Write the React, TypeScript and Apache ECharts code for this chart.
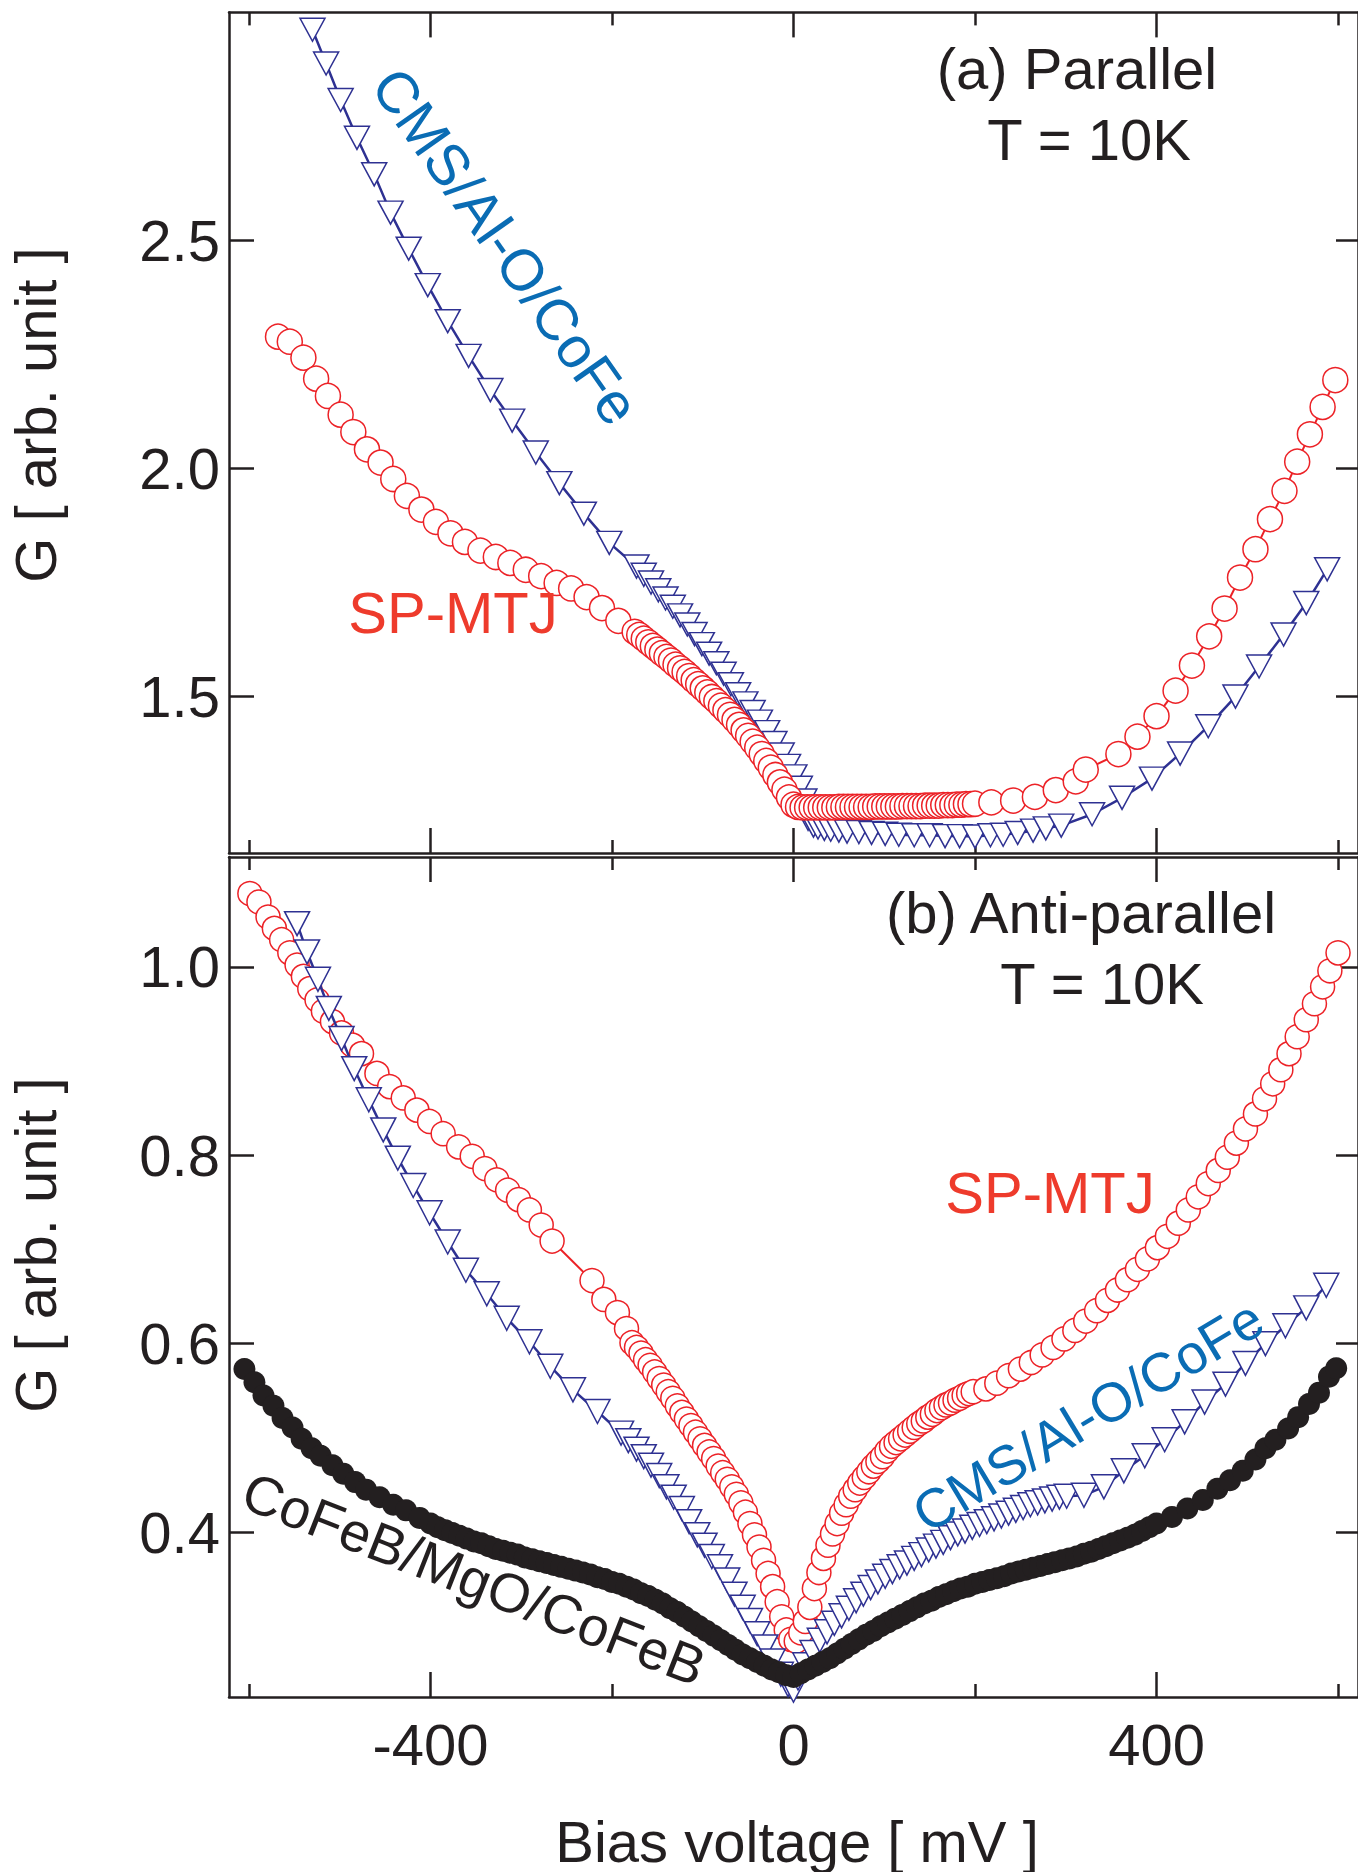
import React, { useEffect, useRef } from 'react';
import * as echarts from 'echarts';

const FONT = '"Liberation Sans", Arial, Helvetica, sans-serif';
const INK = '#231f20';
const RED = '#ec2227';
const NAVY = '#2e3192';
const LABEL_RED = '#ee3b2c';
const LABEL_BLUE = '#0a6cb4';

// Bias voltage ticks (mV)
const biasMajorTicks = [-400, 0, 400];
const biasMinorTicks = [-600, -200, 200, 600];
const biasRange = [-622, 622];

// Conductance ticks
const parallelTicks = [1.5, 2.0, 2.5];
const antiParallelTicks = [0.4, 0.6, 0.8, 1.0];
const parallelRange = [1.157, 3.0];
const antiParallelRange = [0.2248, 1.1168];

// (a) Parallel, SP-MTJ: [bias mV, G]
const parallelSp: [number, number][] = [
  [-568, 2.289], [-555, 2.278], [-540, 2.243], [-526, 2.197], [-513, 2.159], [-499, 2.118], [-485, 2.08],
  [-470, 2.042], [-455, 2.013], [-441, 1.977], [-426, 1.94], [-410, 1.91], [-394, 1.883], [-378, 1.858],
  [-362, 1.839], [-345, 1.82], [-328, 1.806], [-312, 1.793], [-295, 1.778], [-278, 1.764], [-261, 1.749],
  [-245, 1.737], [-228, 1.718], [-211, 1.694], [-193, 1.666],
  [-175, 1.642], [-170, 1.635], [-165, 1.627], [-160, 1.619], [-155, 1.611], [-150, 1.603], [-145, 1.595],
  [-140, 1.587], [-135, 1.579], [-130, 1.57], [-125, 1.562], [-120, 1.554], [-115, 1.545], [-110, 1.536],
  [-105, 1.527], [-100, 1.518], [-95, 1.509], [-90, 1.499], [-85, 1.49], [-80, 1.48], [-75, 1.47],
  [-70, 1.46], [-65, 1.449], [-60, 1.438], [-55, 1.426], [-50, 1.414], [-45, 1.401], [-40, 1.388],
  [-35, 1.374], [-30, 1.359], [-25, 1.344], [-20, 1.328], [-15, 1.312], [-10, 1.296], [-5, 1.279], [0, 1.263],
  [5, 1.258], [10, 1.257], [15, 1.257], [20, 1.257], [25, 1.257], [30, 1.257], [35, 1.257], [40, 1.257],
  [45, 1.257], [50, 1.258], [55, 1.258], [60, 1.258], [65, 1.258], [70, 1.258], [75, 1.258], [80, 1.258],
  [85, 1.258], [90, 1.259], [95, 1.259], [100, 1.259], [105, 1.259], [110, 1.259], [115, 1.259], [120, 1.26],
  [125, 1.26], [130, 1.26], [135, 1.26], [140, 1.26], [145, 1.261], [150, 1.261], [155, 1.261], [160, 1.261],
  [165, 1.262], [170, 1.262], [175, 1.262], [180, 1.263], [185, 1.263], [190, 1.264], [195, 1.264], [200, 1.265],
  [218, 1.268], [242, 1.272], [266, 1.28], [289, 1.295], [311, 1.314], [322, 1.34], [358, 1.374], [379, 1.412],
  [400, 1.457], [421, 1.513], [439, 1.568], [458, 1.632], [475, 1.693], [492, 1.761], [509, 1.823], [525, 1.889],
  [541, 1.951], [555, 2.015], [569, 2.075], [583, 2.135], [597, 2.194],
];

// (a) Parallel, CMS/Al-O/CoFe
const parallelCms: [number, number][] = [
  [-530, 2.962], [-515, 2.888], [-499, 2.808], [-481, 2.725], [-462, 2.645], [-444, 2.561], [-424, 2.482],
  [-403, 2.402], [-381, 2.323], [-358, 2.247], [-334, 2.172], [-310, 2.105], [-284, 2.035], [-258, 1.968],
  [-231, 1.901], [-203, 1.837], [-173, 1.785], [-165, 1.767], [-157, 1.75], [-149, 1.733], [-141, 1.715],
  [-133, 1.697], [-125, 1.678], [-117, 1.658], [-109, 1.637], [-101, 1.615], [-93, 1.594], [-85, 1.573],
  [-77, 1.55], [-69, 1.527], [-61, 1.505], [-53, 1.485], [-45, 1.466], [-37, 1.445], [-29, 1.422],
  [-21, 1.398], [-13, 1.373], [-6, 1.348], [1, 1.325], [7, 1.3], [12, 1.272], [16, 1.232], [22, 1.217],
  [27, 1.213], [34, 1.21], [41, 1.208], [50, 1.206], [59, 1.204], [72, 1.203], [86, 1.201], [101, 1.199],
  [116, 1.197], [133, 1.196], [150, 1.196], [167, 1.194], [183, 1.194], [200, 1.193], [217, 1.196],
  [231, 1.197], [247, 1.201], [264, 1.206], [278, 1.211], [295, 1.217], [329, 1.242], [362, 1.278],
  [395, 1.32], [426, 1.375], [457, 1.435], [487, 1.5], [513, 1.566], [540, 1.636], [565, 1.705], [588, 1.779],
];

// (b) Anti-parallel, SP-MTJ
const antiSp: [number, number][] = [
  [-599, 1.078], [-589, 1.069], [-579, 1.053], [-572, 1.041], [-564, 1.029], [-555, 1.015], [-547, 1.002],
  [-540, 0.99], [-533, 0.977], [-525, 0.965], [-518, 0.953], [-508, 0.942], [-498, 0.93], [-486, 0.917],
  [-476, 0.908], [-459, 0.887], [-445, 0.873], [-430, 0.861], [-415, 0.848], [-401, 0.836], [-386, 0.823],
  [-369, 0.809], [-354, 0.799], [-340, 0.786], [-327, 0.774], [-315, 0.763], [-303, 0.753], [-291, 0.742],
  [-278, 0.726], [-266, 0.709], [-222, 0.667], [-209, 0.647], [-194, 0.633], [-184, 0.616],
  [-178, 0.601], [-173, 0.596], [-168, 0.59], [-163, 0.583], [-158, 0.577], [-153, 0.57], [-148, 0.563],
  [-143, 0.556], [-138, 0.549], [-133, 0.542], [-128, 0.534], [-123, 0.527], [-118, 0.52], [-113, 0.513],
  [-108, 0.506], [-103, 0.499], [-98, 0.492], [-93, 0.485], [-88, 0.478], [-83, 0.47], [-78, 0.463],
  [-73, 0.456], [-68, 0.448], [-63, 0.44], [-58, 0.431], [-53, 0.421], [-48, 0.409], [-43, 0.397],
  [-38, 0.384], [-33, 0.37], [-28, 0.356], [-23, 0.342], [-18, 0.326], [-13, 0.31], [-8, 0.296], [-3, 0.286],
  [3, 0.284], [8, 0.293], [13, 0.305], [18, 0.32], [23, 0.34], [28, 0.357], [33, 0.372], [38, 0.386],
  [43, 0.398], [48, 0.409], [53, 0.42], [58, 0.429], [63, 0.438], [68, 0.445], [73, 0.452], [78, 0.458],
  [83, 0.464], [88, 0.47], [93, 0.475], [98, 0.48], [103, 0.486], [108, 0.491], [113, 0.495], [118, 0.499],
  [123, 0.503], [128, 0.507], [133, 0.511], [138, 0.515], [143, 0.518], [148, 0.522], [153, 0.525],
  [158, 0.529], [163, 0.532], [168, 0.535], [173, 0.537], [178, 0.54], [183, 0.542], [188, 0.545],
  [193, 0.547], [198, 0.549],
  [212, 0.552], [224, 0.558], [237, 0.566], [250, 0.573], [262, 0.58], [274, 0.588], [286, 0.596],
  [298, 0.605], [310, 0.614], [322, 0.624], [334, 0.635], [346, 0.646], [357, 0.657], [368, 0.668],
  [379, 0.679], [390, 0.69], [401, 0.702], [412, 0.714], [424, 0.728], [435, 0.742], [446, 0.756],
  [457, 0.77], [468, 0.784], [478, 0.798], [488, 0.813], [498, 0.828], [509, 0.844], [519, 0.86],
  [528, 0.876], [537, 0.891], [546, 0.908], [555, 0.926], [565, 0.944], [574, 0.961], [583, 0.979],
  [591, 0.996], [600, 1.015],
];

// (b) Anti-parallel, CMS/Al-O/CoFe
const antiCms: [number, number][] = [
  [-547, 1.046], [-536, 1.016], [-524, 0.987], [-512, 0.956], [-498, 0.924], [-484, 0.892], [-468, 0.859],
  [-452, 0.827], [-436, 0.797], [-419, 0.768], [-401, 0.739], [-381, 0.708], [-361, 0.678], [-338, 0.653],
  [-316, 0.627], [-291, 0.602], [-268, 0.576], [-243, 0.551], [-216, 0.528], [-190, 0.505], [-182, 0.497],
  [-173, 0.488], [-165, 0.48], [-157, 0.471], [-148, 0.46], [-140, 0.448], [-132, 0.437], [-123, 0.425],
  [-115, 0.411], [-106, 0.397], [-98, 0.386], [-90, 0.374], [-81, 0.363], [-73, 0.349], [-65, 0.334],
  [-56, 0.32], [-48, 0.306], [-40, 0.292], [-31, 0.278], [-23, 0.263], [-14, 0.249], [-6, 0.238], [0, 0.232],
  [5, 0.245], [13, 0.259], [21, 0.272], [29, 0.285], [37, 0.294], [45, 0.303], [53, 0.311], [61, 0.319],
  [69, 0.327], [77, 0.334], [85, 0.341], [93, 0.347], [101, 0.353], [109, 0.358], [117, 0.363], [125, 0.367],
  [133, 0.372], [141, 0.376], [149, 0.381], [157, 0.385], [165, 0.389], [173, 0.394], [181, 0.398],
  [189, 0.401], [197, 0.405], [205, 0.408], [213, 0.411], [221, 0.414], [229, 0.417], [237, 0.42],
  [245, 0.423], [253, 0.426], [261, 0.429], [269, 0.431], [277, 0.433], [285, 0.435], [293, 0.437], [301, 0.438],
  [320, 0.439], [342, 0.448], [364, 0.465], [387, 0.481], [409, 0.498], [431, 0.517], [453, 0.538],
  [476, 0.557], [498, 0.579], [520, 0.6], [542, 0.619], [565, 0.638], [587, 0.662],
];

// (b) Anti-parallel, CoFeB/MgO/CoFeB
const antiMgo: [number, number][] = [
  [-605, 0.573], [-594, 0.559], [-584, 0.545], [-573, 0.534], [-563, 0.521], [-552, 0.511], [-542, 0.499],
  [-531, 0.489], [-521, 0.481], [-508, 0.471], [-496, 0.462], [-483, 0.453], [-471, 0.445], [-456, 0.437],
  [-441, 0.429], [-427, 0.423], [-412, 0.415], [-400, 0.409],
  [-392, 0.405], [-384, 0.402], [-376, 0.399], [-368, 0.396], [-360, 0.393], [-352, 0.39], [-344, 0.388],
  [-336, 0.385], [-328, 0.382], [-320, 0.38], [-312, 0.378], [-304, 0.376], [-296, 0.373], [-288, 0.371],
  [-280, 0.369], [-272, 0.367], [-264, 0.365], [-256, 0.363], [-248, 0.361], [-240, 0.359], [-232, 0.357],
  [-224, 0.355], [-216, 0.352], [-208, 0.35], [-200, 0.347], [-192, 0.345], [-184, 0.342], [-176, 0.339],
  [-168, 0.335], [-160, 0.332], [-152, 0.328], [-144, 0.324], [-136, 0.319], [-128, 0.315], [-120, 0.31],
  [-112, 0.305], [-104, 0.3], [-96, 0.295], [-88, 0.29], [-80, 0.285], [-72, 0.28], [-64, 0.275],
  [-56, 0.27], [-48, 0.266], [-40, 0.262], [-32, 0.258], [-24, 0.254], [-16, 0.251], [-8, 0.248], [0, 0.246],
  [8, 0.25], [16, 0.254], [24, 0.258], [32, 0.262], [40, 0.266], [48, 0.271], [56, 0.276], [64, 0.281],
  [72, 0.286], [80, 0.291], [88, 0.295], [96, 0.3], [104, 0.304], [112, 0.308], [120, 0.312], [128, 0.316],
  [136, 0.32], [144, 0.324], [152, 0.327], [160, 0.331], [168, 0.334], [176, 0.337], [184, 0.34], [192, 0.342],
  [200, 0.345], [208, 0.347], [216, 0.349], [224, 0.351], [232, 0.353], [240, 0.356], [248, 0.358],
  [256, 0.36], [264, 0.362], [272, 0.364], [280, 0.366], [288, 0.368], [296, 0.37], [304, 0.372],
  [312, 0.374], [320, 0.377], [328, 0.379], [336, 0.382], [344, 0.385], [352, 0.388], [360, 0.391],
  [368, 0.394], [376, 0.397], [384, 0.401], [392, 0.405], [400, 0.409],
  [417, 0.416], [434, 0.425], [451, 0.434], [467, 0.446], [481, 0.455], [495, 0.465], [509, 0.477],
  [520, 0.489], [531, 0.498], [545, 0.51], [556, 0.522], [568, 0.536], [579, 0.548], [590, 0.565], [598, 0.574],
];

const PLOT_LEFT = 229;
const PLOT_WIDTH = 1137;
const TOP_PANEL = { top: 12.4, height: 840.6 };
const BOTTOM_PANEL = { top: 857, height: 840 };

const axisLineStyle = { color: INK, width: 2.5 };

function biasAxis(gridIndex: number, position: 'top' | 'bottom', major: boolean, labels: boolean) {
  return {
    type: 'value',
    gridIndex,
    position,
    min: biasRange[0],
    max: biasRange[1],
    axisLine: { show: major, onZero: false, lineStyle: axisLineStyle },
    axisTick: {
      show: true,
      inside: true,
      length: major ? 25 : 13,
      customValues: major ? biasMajorTicks : biasMinorTicks,
      lineStyle: axisLineStyle,
    },
    axisLabel: {
      show: labels,
      customValues: biasMajorTicks,
      margin: 18,
      fontSize: 58,
      fontFamily: FONT,
      color: INK,
      formatter: (v: number) => String(v),
    },
    splitLine: { show: false },
  };
}

function gAxis(gridIndex: number, position: 'left' | 'right', range: number[], ticks: number[]) {
  const left = position === 'left';
  return {
    type: 'value',
    gridIndex,
    position,
    min: range[0],
    max: range[1],
    axisLine: { show: true, onZero: false, lineStyle: axisLineStyle },
    axisTick: { show: true, inside: true, length: left ? 25 : 22, customValues: ticks, lineStyle: axisLineStyle },
    axisLabel: {
      show: left,
      customValues: ticks,
      margin: 9,
      fontSize: 58,
      fontFamily: FONT,
      color: INK,
      formatter: (v: number) => v.toFixed(1),
    },
    splitLine: { show: false },
  };
}

function hiddenAxis(gridIndex: number) {
  return { type: 'value', gridIndex, show: false, min: 0, max: 1 };
}

function text(content: string, x: number, y: number, color = INK, size = 58, rotDeg = 0) {
  return {
    type: 'text',
    x,
    y,
    rotation: (rotDeg * Math.PI) / 180,
    silent: true,
    z: 20,
    style: {
      text: content,
      fill: color,
      fontSize: size,
      fontFamily: FONT,
      align: 'center',
      verticalAlign: 'middle',
    },
  };
}

function circleSeries(data: [number, number][], xi: number, yi: number, size: number, z: number) {
  return {
    type: 'line',
    xAxisIndex: xi,
    yAxisIndex: yi,
    data,
    z,
    silent: true,
    symbol: 'circle',
    symbolSize: size,
    showSymbol: true,
    itemStyle: { color: '#ffffff', borderColor: RED, borderWidth: 1.5, opacity: 1 },
    lineStyle: { color: RED, width: 2 },
    emphasis: { disabled: true },
  };
}

function triangleSeries(data: [number, number][], xi: number, yi: number, size: number[], z: number) {
  return {
    type: 'line',
    xAxisIndex: xi,
    yAxisIndex: yi,
    data,
    z,
    silent: true,
    symbol: 'triangle',
    symbolRotate: 180,
    symbolSize: size,
    showSymbol: true,
    itemStyle: { color: '#ffffff', borderColor: NAVY, borderWidth: 1.5, opacity: 1 },
    lineStyle: { color: NAVY, width: 2.5 },
    emphasis: { disabled: true },
  };
}

const option = {
  animation: false,
  backgroundColor: '#ffffff',
  grid: [
    { left: PLOT_LEFT, width: PLOT_WIDTH, ...TOP_PANEL },
    { left: PLOT_LEFT, width: PLOT_WIDTH, ...TOP_PANEL },
    { left: PLOT_LEFT, width: PLOT_WIDTH, ...BOTTOM_PANEL },
    { left: PLOT_LEFT, width: PLOT_WIDTH, ...BOTTOM_PANEL },
  ],
  xAxis: [
    biasAxis(0, 'bottom', true, false),
    biasAxis(0, 'top', true, false),
    biasAxis(1, 'bottom', false, false),
    biasAxis(1, 'top', false, false),
    biasAxis(2, 'bottom', true, true),
    biasAxis(2, 'top', true, false),
    biasAxis(3, 'bottom', false, false),
    biasAxis(3, 'top', false, false),
  ],
  yAxis: [
    gAxis(0, 'left', parallelRange, parallelTicks),
    gAxis(0, 'right', parallelRange, parallelTicks),
    hiddenAxis(1),
    gAxis(2, 'left', antiParallelRange, antiParallelTicks),
    gAxis(2, 'right', antiParallelRange, antiParallelTicks),
    hiddenAxis(3),
  ],
  series: [
    triangleSeries(parallelCms, 0, 0, [25, 23], 2),
    circleSeries(parallelSp, 0, 0, 25, 3),
    circleSeries(antiSp, 4, 3, 24, 2),
    triangleSeries(antiCms, 4, 3, [25, 24], 3),
    {
      type: 'scatter',
      xAxisIndex: 4,
      yAxisIndex: 3,
      data: antiMgo,
      z: 4,
      silent: true,
      symbol: 'circle',
      symbolSize: 22,
      itemStyle: { color: INK, opacity: 1 },
      emphasis: { disabled: true },
    },
  ],
  graphic: [
    text('G [ arb. unit ]', 35, 415, INK, 58, 90),
    text('G [ arb. unit ]', 35, 1245, INK, 58, 90),
    text('Bias voltage [ mV ]', 797, 1841),
    text('(a) Parallel', 1077, 68),
    text('T = 10K', 1089, 139),
    text('(b) Anti-parallel', 1081, 912),
    text('T = 10K', 1102, 983),
    text('SP-MTJ', 453, 612, LABEL_RED),
    text('SP-MTJ', 1050, 1192, LABEL_RED),
    text('CMS/Al-O/CoFe', 506, 246, LABEL_BLUE, 58, -55),
    text('CMS/Al-O/CoFe', 1088, 1416, LABEL_BLUE, 55, 31),
    text('CoFeB/MgO/CoFeB', 474, 1579, INK, 55, -21.5),
  ],
};

export default function App() {
  const ref = useRef<HTMLDivElement>(null);
  useEffect(() => {
    if (!ref.current) return;
    const chart = echarts.init(ref.current, null, { renderer: 'svg' });
    chart.setOption(option as any);
    return () => chart.dispose();
  }, []);
  return (
    <div
      ref={ref}
      style={{ position: 'absolute', left: 0, top: 0, width: 1358, height: 1872, background: '#ffffff' }}
    />
  );
}
